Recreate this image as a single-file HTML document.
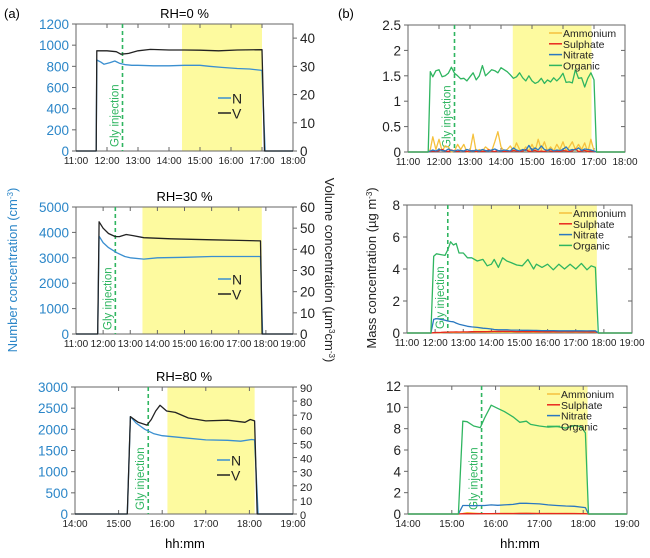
<!DOCTYPE html>
<html><head><meta charset="utf-8"><style>
body{margin:0;background:#fff;width:650px;height:558px;overflow:hidden;font-family:"Liberation Sans",sans-serif}
svg{display:block}
</style></head><body>
<svg id="fig" width="650" height="558" xmlns="http://www.w3.org/2000/svg" font-family="Liberation Sans, sans-serif">
<text x="4" y="18" font-size="13">(a)</text>
<text x="338" y="18" font-size="13">(b)</text>
<text transform="translate(17,270) rotate(-90)" text-anchor="middle" font-size="13" fill="#2b86c8">Number concentration (cm<tspan baseline-shift="super" font-size="8">-3</tspan>)</text>
<text transform="translate(325,270) rotate(90)" text-anchor="middle" font-size="13" fill="#222">Volume concentration (µm<tspan baseline-shift="super" font-size="8">3</tspan>cm<tspan baseline-shift="super" font-size="8">-3</tspan>)</text>
<text transform="translate(376,268) rotate(-90)" text-anchor="middle" font-size="13" fill="#222">Mass concentration (µg m<tspan baseline-shift="super" font-size="8">-3</tspan>)</text>
<text x="185" y="548" text-anchor="middle" font-size="13">hh:mm</text>
<text x="520" y="548" text-anchor="middle" font-size="13">hh:mm</text>
</svg>
<script>
// ---- data ----
const a1NT=[11,11.65,11.67,11.8,11.9,12.1,12.25,12.4,12.6,12.8,13,13.5,14,14.5,15,15.3,15.7,16.2,16.6,17.0,17.1,18];
const a1NV=[0,0,860,840,820,835,850,830,815,810,810,805,805,810,810,800,790,780,775,762,0,0];
const a1VT=[11,11.65,11.67,12.0,12.3,12.45,12.7,13.0,13.4,14,14.5,15,15.6,16.2,17.0,17.08,18];
const a1VV=[0,0,35.5,35.5,35.2,34.3,34.6,35.5,36,35.8,35.8,35.7,35.5,35.8,35.9,0,0];
const a2NT=[11,11.8,11.85,12.0,12.2,12.5,12.8,13.0,13.5,14,15,16,17,17.8,17.88,19];
const a2NV=[0,0,3850,3600,3400,3200,3050,3000,2950,3000,3020,3050,3050,3050,0,0];
const a2VT=[11,11.8,11.85,12.0,12.2,12.45,12.6,12.85,13.1,13.5,14.5,16,17,17.8,17.86,19];
const a2VV=[0,0,53,50,47.5,46,46,47,46.5,45.5,45,44.5,44.2,44,0,0];
const a3NT=[14,15.2,15.27,15.4,15.6,15.8,16.0,16.5,17.0,17.5,17.8,18.05,18.12,18.2,19];
const a3NV=[0,0,2300,2150,2000,1900,1850,1800,1750,1740,1720,1760,1750,0,0];
const a3VT=[14,15.2,15.27,15.45,15.65,15.75,15.85,15.95,16.1,16.3,16.6,17.0,17.5,17.9,18.02,18.12,18.18,19];
const a3VV=[0,0,69,65,63,67,73,77,73,72,68,66,66.5,65,67,66,0,0];
const b1T=[11,11.65,11.72,11.8,11.9,12.0,12.1,12.2,12.3,12.4,12.5,12.6,12.7,12.8,12.9,13.0,13.1,13.2,13.3,13.4,13.5,13.6,13.7,13.8,13.9,14.0,14.1,14.2,14.3,14.4,14.5,14.6,14.7,14.8,14.9,15.0,15.1,15.2,15.3,15.4,15.5,15.6,15.7,15.8,15.9,16.0,16.1,16.2,16.3,16.4,16.5,16.6,16.7,16.8,16.9,17.0,17.08,17.15,18];
const b1Org=[0,0,1.58,1.48,1.6,1.62,1.48,1.5,1.55,1.67,1.55,1.5,1.44,1.45,1.4,1.48,1.56,1.42,1.5,1.7,1.5,1.56,1.62,1.6,1.56,1.66,1.62,1.58,1.52,1.45,1.48,1.56,1.46,1.4,1.5,1.4,1.35,1.38,1.45,1.35,1.42,1.38,1.46,1.4,1.46,1.55,1.37,1.38,1.36,1.62,1.45,1.46,1.28,1.45,1.56,1.42,0,0,0];
const b1Amm=[0,0,0.05,0.3,0.05,0.25,0.02,0.12,0.1,0.0,0.02,0.15,0.05,0.15,0.0,0.02,0.35,0.0,0.05,0.02,0.1,0.05,0.02,0.2,0.4,0.1,0.02,0.05,0.12,0.02,0.18,0.05,0.02,0.1,0.02,0.15,0.02,0.25,0.05,0.2,0.02,0.1,0.02,0.15,0.05,0.2,0.02,0.1,0.2,0.05,0.15,0.05,0.18,0.0,0.25,0.02,0,0,0];
const b1Sul=[0,0,0.01,0.02,0.01,0.03,0.05,0.02,0.01,0.04,0.02,0.01,0.03,0.02,0.01,0.02,0.03,0.01,0.02,0.01,0.02,0.04,0.02,0.01,0.03,0.02,0.01,0.02,0.01,0.03,0.02,0.01,0.02,0.05,0.01,0.02,0.03,0.01,0.02,0.01,0.03,0.02,0.01,0.02,0.01,0.03,0.02,0.01,0.02,0.06,0.01,0.02,0.03,0.01,0.02,0.01,0,0,0];
const b1Nit=[0,0,0.02,0.04,0.02,0.05,0.03,0.02,0.06,0.03,0.02,0.04,0.03,0.02,0.05,0.03,0.02,0.04,0.02,0.05,0.03,0.02,0.04,0.06,0.03,0.02,0.04,0.03,0.02,0.08,0.04,0.02,0.05,0.03,0.13,0.03,0.08,0.04,0.12,0.05,0.03,0.06,0.02,0.04,0.03,0.05,0.1,0.03,0.05,0.04,0.08,0.03,0.06,0.05,0.04,0.02,0,0,0];
const b2T=[11,11.85,11.95,12.05,12.2,12.35,12.45,12.55,12.65,12.75,12.85,13.0,13.15,13.3,13.5,13.7,13.85,14.0,14.1,14.25,14.4,14.55,14.7,14.9,15.1,15.3,15.5,15.6,15.8,16.0,16.2,16.4,16.6,16.8,17.0,17.2,17.4,17.55,17.7,17.8,18.2,19];
const b2Org=[0,0,4.8,4.95,4.9,4.85,5.2,5.7,5.5,5.6,5.0,5.0,4.7,4.7,4.5,4.6,4.2,4.3,4.6,4.1,4.7,4.5,4.4,4.25,4.2,4.6,4.0,4.3,4.1,4.3,3.95,4.3,4.0,4.3,4.0,4.35,3.95,4.2,4.1,0,0,0];
const b2Nit=[0,0,0.85,0.9,0.85,0.8,0.75,0.72,0.7,0.62,0.55,0.48,0.42,0.38,0.35,0.3,0.28,0.25,0.22,0.2,0.2,0.2,0.18,0.18,0.17,0.17,0.16,0.16,0.15,0.15,0.15,0.14,0.14,0.14,0.14,0.14,0.13,0.14,0.14,0,0,0];
const b2Sul=[0,0,0.02,0.03,0.04,0.05,0.05,0.06,0.06,0.07,0.06,0.07,0.07,0.08,0.08,0.09,0.09,0.1,0.1,0.1,0.1,0.1,0.1,0.09,0.09,0.09,0.09,0.09,0.08,0.08,0.08,0.08,0.08,0.08,0.08,0.08,0.07,0.07,0.07,0,0,0];
const b2Amm=[0,0,0.02,0.03,0.02,0.04,0.03,0.05,0.03,0.04,0.05,0.04,0.05,0.06,0.05,0.06,0.05,0.06,0.05,0.06,0.05,0.06,0.05,0.06,0.05,0.06,0.05,0.06,0.05,0.06,0.05,0.06,0.05,0.06,0.05,0.06,0.05,0.06,0.05,0,0,0];
const b3T=[14,15.15,15.25,15.35,15.5,15.65,15.75,15.9,16.05,16.2,16.4,16.55,16.7,16.8,17.0,17.2,17.4,17.6,17.8,17.95,18.05,18.12,19];
const b3Org=[0,0,8.7,8.65,8.25,8.1,9.0,10.2,9.9,9.6,9.1,8.6,8.7,8.4,8.25,8.15,8.2,8.05,8.3,8.2,7.6,0,0];
const b3Nit=[0,0,0.8,0.8,0.78,0.8,0.8,0.85,0.82,0.85,0.9,1.0,1.0,0.98,0.95,0.85,0.8,0.75,0.72,0.65,0.6,0,0];
const b3Sul=[0,0,0.03,0.04,0.03,0.04,0.04,0.04,0.05,0.05,0.05,0.06,0.06,0.06,0.05,0.05,0.05,0.05,0.05,0.04,0.04,0,0];
const b3Amm=[0,0,0.05,0.12,0.08,0.05,0.04,0.03,0.04,0.05,0.04,0.06,0.08,0.06,0.04,0.05,0.04,0.05,0.04,0.04,0.03,0,0];
const aXTicks1=["11:00","12:00","13:00","14:00","15:00","16:00","17:00","18:00"];
const aXTicks2=["11:00","12:00","13:00","14:00","15:00","16:00","17:00","18:00","19:00"];
const aXTicks3=["14:00","15:00","16:00","17:00","18:00","19:00"];
const a1LTicks=[0,200,400,600,800,1000,1200], a1RTicks=[0,10,20,30,40];
const a2LTicks=[0,1000,2000,3000,4000,5000], a2RTicks=[0,10,20,30,40,50,60];
const a3LTicks=[0,500,1000,1500,2000,2500,3000], a3RTicks=[0,10,20,30,40,50,60,70,80,90];
const b1Ticks=[0,0.5,1,1.5,2,2.5], b2Ticks=[0,2,4,6,8], b3Ticks=[0,2,4,6,8,10,12];
const titles=["RH=0 %","RH=30 %","RH=80 %"];

const NS="http://www.w3.org/2000/svg";
const svg=document.getElementById('fig');
function mk(tag,attrs,parent){const e=document.createElementNS(NS,tag);for(const k in attrs)e.setAttribute(k,attrs[k]);(parent||svg).appendChild(e);return e;}
const COL={N:"#3a8fd0",V:"#222",Amm:"#f5c13d",Sul:"#e8281e",Nit:"#2a78c0",Org:"#2fb560",gly:"#2fb560"};

function panel(p){
  const g=mk('g',{});
  
  
  const xs=t=>p.x0+(t-p.t0)/(p.t1-p.t0)*(p.x1-p.x0);
  const ys=(v,m)=>p.y1-v/m*(p.y1-p.y0);
  const sh=mk('rect',{x:xs(p.sh0),y:p.y0,width:xs(p.sh1)-xs(p.sh0),height:p.y1-p.y0,fill:"#fdfa9f"},g);
  
  
  const fr=mk('rect',{x:p.x0,y:p.y0,width:p.x1-p.x0,height:p.y1-p.y0,fill:"none",stroke:"#666","stroke-width":1},g);
  
  
  p.xt.forEach((lab,i)=>{const x=p.x0+i*(p.x1-p.x0)/(p.xt.length-1);
    mk('line',{x1:x,x2:x,y1:p.y0,y2:p.y0+4,stroke:"#666"},g);
    mk('line',{x1:x,x2:x,y1:p.y1,y2:p.y1-4,stroke:"#666"},g);
    const t=mk('text',{x:x,y:p.y1+13,"text-anchor":"middle","font-size":10,fill:"#222"},g);t.textContent=lab;
    
    });
  const lm=p.lt[p.lt.length-1];
  p.lt.forEach(v=>{const y=ys(v,lm);
    mk('line',{x1:p.x0-4,x2:p.x0,y1:y,y2:y,stroke:"#666"},g);
    const t=mk('text',{x:p.x0-7,y:y+5,"text-anchor":"end","font-size":p.lfs,fill:p.lcol},g);t.textContent=v;
    
    });
  if(p.rt){
    p.rt.forEach(v=>{const y=ys(v,p.rmax);
      mk('line',{x1:p.x1,x2:p.x1+4,y1:y,y2:y,stroke:"#666"},g);
      const t=mk('text',{x:p.x1+7,y:y+5,"font-size":p.rfs,fill:"#222"},g);t.textContent=v;
      
      });
  } else {
    p.lt.forEach(v=>{const y=ys(v,lm);mk('line',{x1:p.x1,x2:p.x1-4,y1:y,y2:y,stroke:"#666"},g);});
  }
  if(p.title){const t=mk('text',{x:(p.x0+p.x1)/2,y:p.y0-6,"text-anchor":"middle","font-size":13},g);t.textContent=p.title;
    
    }
  const gx=xs(p.gly);
  const gl=mk('line',{x1:gx,x2:gx,y1:p.y0,y2:p.y1,stroke:COL.gly,"stroke-width":1.6,"stroke-dasharray":"4,3"},g);
  
  
  const gt=mk('text',{transform:`translate(${gx-4},${p.y1-4}) rotate(-90)`,"font-size":11.5,fill:COL.gly},g);gt.textContent="Gly injection";
  
  
  p.series.forEach(s=>{
    const m=s.right?p.rmax:lm;
    const d=s.t.map((t,i)=>(i?'L':'M')+xs(t).toFixed(1)+','+ys(s.v[i],m).toFixed(1)).join('');
    const path=mk('path',{d:d,fill:"none",stroke:s.c,"stroke-width":1.3,"stroke-linejoin":"round"},g);
    
    
  });
  p.legend.forEach((s,i)=>{const ly=p.y0+p.lgy+i*p.lgdy, lx=p.x0+p.lgx;
    const ll=mk('line',{x1:lx,x2:lx+p.lgw,y1:ly,y2:ly,stroke:s.c,"stroke-width":1.5},g);
    
    
    const t=mk('text',{x:lx+p.lgw+1,y:ly+p.lgfs*0.38,"font-size":p.lgfs,fill:"#222"},g);t.textContent=s.n;
    
    });
}
const aLeg=[{n:"N",c:COL.N},{n:"V",c:COL.V}];
const bLeg=[{n:"Ammonium",c:COL.Amm},{n:"Sulphate",c:COL.Sul},{n:"Nitrate",c:COL.Nit},{n:"Organic",c:COL.Org}];
const aBase={lfs:13.5,rfs:13.5,lcol:"#2b86c8",lgx:142,lgy:74,lgdy:15,lgw:13,lgfs:14};
const bBase={lfs:13.5,lcol:"#222",lgx:141,lgy:8,lgdy:10.8,lgw:13,lgfs:10.5};
panel(Object.assign({},aBase,{name:"panel-a-rh0",x0:76,x1:293,y0:24,y1:151,t0:11,t1:18,xt:aXTicks1,lt:a1LTicks,rt:a1RTicks,rmax:45,sh0:14.42,sh1:17.0,gly:12.5,title:titles[0],
  series:[{n:"N",t:a1NT,v:a1NV,c:COL.N},{n:"V",t:a1VT,v:a1VV,c:COL.V,right:true}],legend:aLeg}));
panel(Object.assign({},aBase,{name:"panel-a-rh30",x0:76,x1:293,y0:207,y1:334,t0:11,t1:19,xt:aXTicks2,lt:a2LTicks,rt:a2RTicks,rmax:60,sh0:13.45,sh1:17.85,gly:12.45,title:titles[1],lgy:72,
  series:[{n:"N",t:a2NT,v:a2NV,c:COL.N},{n:"V",t:a2VT,v:a2VV,c:COL.V,right:true}],legend:aLeg}));
panel(Object.assign({},aBase,{name:"panel-a-rh80",x0:75,x1:293,y0:387,y1:514,t0:14,t1:19,xt:aXTicks3,lt:a3LTicks,rt:a3RTicks,rmax:90,rfs:11,sh0:16.12,sh1:18.12,gly:15.68,title:titles[2],lgy:73,
  series:[{n:"N",t:a3NT,v:a3NV,c:COL.N},{n:"V",t:a3VT,v:a3VV,c:COL.V,right:true}],legend:aLeg}));
panel(Object.assign({},bBase,{name:"panel-b-rh0",x0:408,x1:625,y0:25,y1:152,t0:11,t1:18,xt:aXTicks1,lt:b1Ticks,sh0:14.38,sh1:16.92,gly:12.5,
  series:[{n:"Ammonium",t:b1T,v:b1Amm,c:COL.Amm},{n:"Sulphate",t:b1T,v:b1Sul,c:COL.Sul},{n:"Nitrate",t:b1T,v:b1Nit,c:COL.Nit},{n:"Organic",t:b1T,v:b1Org,c:COL.Org}],legend:bLeg}));
panel(Object.assign({},bBase,{name:"panel-b-rh30",x0:407,x1:632,y0:205,y1:333,t0:11,t1:19,xt:aXTicks2,lt:b2Ticks,sh0:13.35,sh1:17.75,gly:12.45,lgx:152,
  series:[{n:"Ammonium",t:b2T,v:b2Amm,c:COL.Amm},{n:"Sulphate",t:b2T,v:b2Sul,c:COL.Sul},{n:"Nitrate",t:b2T,v:b2Nit,c:COL.Nit},{n:"Organic",t:b2T,v:b2Org,c:COL.Org}],legend:bLeg}));
panel(Object.assign({},bBase,{name:"panel-b-rh80",x0:408,x1:627,y0:386,y1:514,t0:14,t1:19,xt:aXTicks3,lt:b3Ticks,sh0:16.1,sh1:18.1,gly:15.68,lgx:139,
  series:[{n:"Ammonium",t:b3T,v:b3Amm,c:COL.Amm},{n:"Sulphate",t:b3T,v:b3Sul,c:COL.Sul},{n:"Nitrate",t:b3T,v:b3Nit,c:COL.Nit},{n:"Organic",t:b3T,v:b3Org,c:COL.Org}],legend:bLeg}));
</script>
</body></html>
